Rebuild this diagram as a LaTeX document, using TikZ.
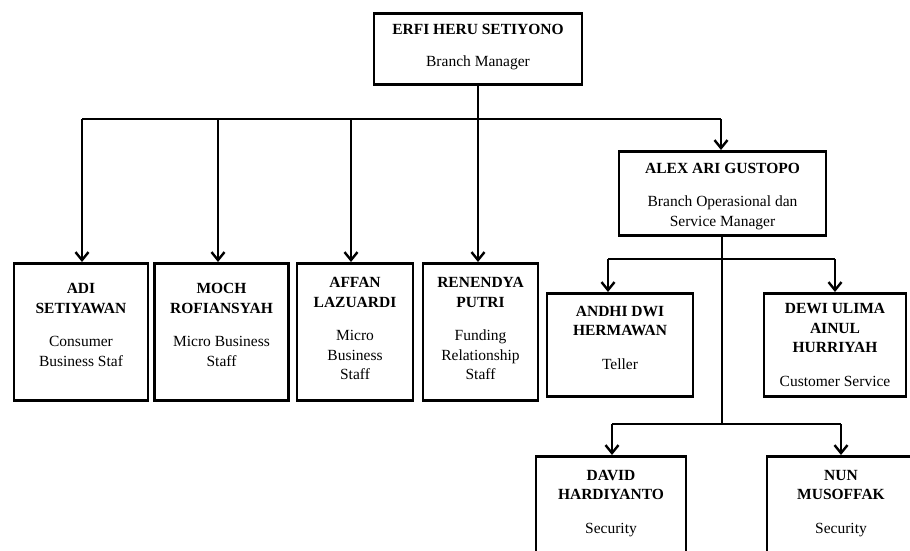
\documentclass[tikz,border=0pt]{standalone}
\usepackage{fontspec}
\setmainfont{Liberation Serif}
\usetikzlibrary{arrows.meta}
\tikzset{
  orgbox/.style={draw=black, line width=2.6pt, fill=white, rectangle, inner sep=0pt},
  orgtext/.style={align=center, inner sep=0pt, font=\fontsize{15.5}{19.5}\selectfont},
  conn/.style={draw=black, line width=2.4pt},
  arr/.style={conn, -{Straight Barb[length=8pt,width=13pt,line width=2.4pt]}},
}
\newcommand{\nm}[1]{\textbf{#1}}
% name, cx, top, width, height, text shift (up), text
\newcommand{\obox}[7]{%
  \node[orgbox, anchor=north, minimum width=#4, minimum height=#5] (#1) at (#2,#3) {};
  \node[orgtext] (#1t) at ([yshift=#6]#1.center) {#7};}
\begin{document}
\begin{tikzpicture}[x=1pt,y=-1pt]
\useasboundingbox (0,0) rectangle (910,551);
\clip (0,0) rectangle (910,551);
\obox{erfi}{478}{12}{208}{71}{2pt}{\nm{ERFI HERU SETIYONO}\\[13pt]Branch Manager}
\obox{adi}{81}{262}{134}{137}{7pt}{\nm{ADI}\\\nm{SETIYAWAN}\\[14pt]Consumer\\Business Staf}
\obox{moch}{221.5}{262}{134}{137}{7pt}{\nm{MOCH}\\\nm{ROFIANSYAH}\\[14pt]Micro Business\\Staff}
\obox{affan}{355}{262}{116}{137}{3pt}{\nm{AFFAN}\\\nm{LAZUARDI}\\[14pt]Micro\\Business\\Staff}
\obox{ren}{480.5}{262}{115}{137}{3pt}{\nm{RENENDYA}\\\nm{PUTRI}\\[14pt]Funding\\Relationship\\Staff}
\obox{alex}{722.5}{150}{207}{84}{-3pt}{\nm{ALEX ARI GUSTOPO}\\[14pt]Branch Operasional dan\\Service Manager}
\obox{andhi}{620}{292}{146}{103}{7pt}{\nm{ANDHI DWI}\\\nm{HERMAWAN}\\[14pt]Teller}
\obox{dewi}{835}{292}{142}{103}{0pt}{\nm{DEWI ULIMA}\\\nm{AINUL}\\\nm{HURRIYAH}\\[14pt]Customer Service}
% bottom level (cut off by the page edge)
\node[orgbox, anchor=north, minimum width=150, minimum height=130] (david) at (611,455) {};
\node[orgtext, anchor=north] (davidt) at (611,470)
  {\nm{DAVID}\\\nm{HARDIYANTO}\\[14pt]Security};
\node[orgbox, anchor=north, minimum width=148, minimum height=130] (nun) at (841,455) {};
\node[orgtext, anchor=north] (nunt) at (841,470)
  {\nm{NUN}\\\nm{MUSOFFAK}\\[14pt]Security};
% connectors
\coordinate (b1) at (478,119);
\coordinate (bL) at (82,119);
\coordinate (bR) at (721,119);
\coordinate (b2) at (218,119);
\coordinate (b3) at (351,119);
\draw[conn] (erfi.south) -- (b1);
\draw[conn] (bL) -- (bR);
\draw[arr] (bL) -- (bL |- adi.north);
\draw[arr] (b2) -- (b2 |- moch.north);
\draw[arr] (b3) -- (b3 |- affan.north);
\draw[arr] (b1) -- (b1 |- ren.north);
\draw[arr] (bR) -- (bR |- alex.north);
% under alex
\coordinate (c1) at (722,259);
\coordinate (cL) at (608,259);
\coordinate (cR) at (835,259);
\coordinate (d1) at (722,424);
\coordinate (dL) at (612,424);
\coordinate (dR) at (841,424);
\draw[conn] (alex.south -| c1) -- (d1);
\draw[conn] (cL) -- (cR);
\draw[arr] (cL) -- (cL |- andhi.north);
\draw[arr] (cR) -- (cR |- dewi.north);
\draw[conn] (dL) -- (dR);
\draw[arr] (dL) -- (dL |- david.north);
\draw[arr] (dR) -- (dR |- nun.north);
\end{tikzpicture}
\end{document}
